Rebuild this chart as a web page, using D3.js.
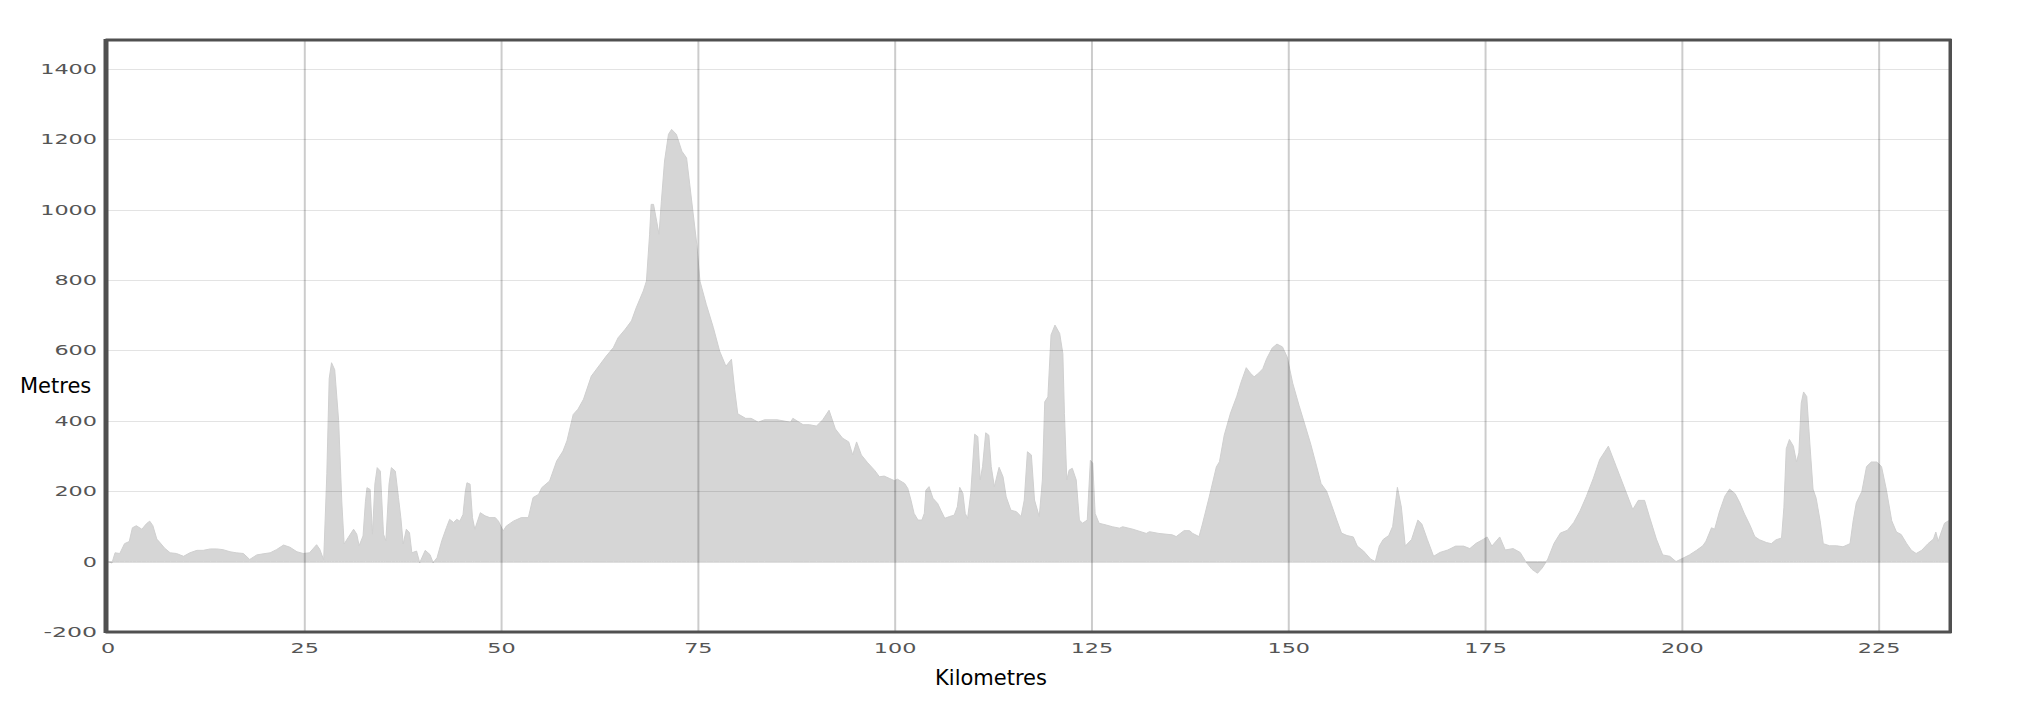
<!DOCTYPE html>
<html>

<head>
    <meta charset="utf-8">
    <script src="https://d3js.org/d3.v7.min.js"></script>
    <style>
        body {
            margin: 0;
            background: #fff;
        }

        .tick-label {
            font-family: "DejaVu Sans", sans-serif;
            font-size: 14px;
            fill: #555;
        }

        .axis-title {
            font-family: "DejaVu Sans", sans-serif;
            font-size: 21px;
            fill: #000;
        }
    </style>
</head>

<body>
    <div id="chart"></div>
    <script>
        // distance along the route (km) and elevation (m)
        var distanceKm = [
            0, 0.5, 0.9, 1.5, 2.1, 2.7, 3.1, 3.6, 4.3, 4.9, 5.3, 5.7, 6.2, 6.6, 7.2, 7.9, 8.7, 9.6,
            10.4, 11.3, 12.1, 13.0, 13.8, 14.6, 15.5, 16.3, 17.2, 18.0, 18.9, 19.7, 20.6, 21.4, 22.3,
            23.1, 24.0, 24.8, 25.6, 26.5, 26.9, 27.4, 27.8, 28.1, 28.4, 28.8, 29.3, 29.7, 30.0, 30.5,
            31.2, 31.6, 31.9, 32.4, 32.7, 32.9, 33.3, 33.6, 33.9, 34.2, 34.6, 35.0, 35.3, 35.7, 36.0,
            36.5, 36.9, 37.2, 37.5, 37.9, 38.3, 38.6, 39.2, 39.6, 40.3, 40.9, 41.3, 41.8, 42.4, 43.0,
            43.4, 43.9, 44.3, 44.7, 45.1, 45.4, 45.6, 46.0, 46.3, 46.6, 47.3, 47.9, 48.5, 49.2, 49.6,
            50.2, 50.6, 51.5, 52.5, 53.4, 54.0, 54.7, 55.1, 56.1, 57.0, 57.8, 58.3, 59.1, 59.7, 60.4,
            61.4, 62.5, 63.3, 64.2, 64.8, 65.7, 66.5, 67.1, 68.0, 68.4, 68.8, 69.0, 69.3, 69.7, 70.0,
            70.3, 70.7, 71.2, 71.6, 72.2, 72.9, 73.5, 73.9, 74.3, 74.8, 75.2, 76.0, 76.9, 77.7, 78.5,
            79.2, 79.6, 80.0, 81.0, 81.7, 82.6, 83.4, 85.0, 86.7, 87.0, 88.3, 89.1, 90.0, 90.8, 91.6,
            92.4, 93.3, 94.1, 94.6, 95.1, 95.7, 96.5, 97.4, 98.0, 98.6, 99.3, 99.9, 100.3, 101.2,
            101.6, 102.0, 102.4, 102.9, 103.4, 103.7, 103.9, 104.3, 104.8, 105.4, 105.8, 106.3, 106.9,
            107.5, 107.9, 108.2, 108.6, 108.9, 109.2, 109.6, 110.1, 110.5, 110.8, 111.1, 111.5, 111.9,
            112.2, 112.6, 113.2, 113.7, 114.1, 114.7, 115.4, 116.0, 116.4, 116.8, 117.3, 117.7, 118.3,
            118.7, 119.0, 119.4, 119.8, 120.3, 120.9, 121.3, 121.5, 121.8, 122.1, 122.5, 123.0, 123.4,
            123.8, 124.4, 124.8, 125.1, 125.4, 125.9, 126.8, 127.6, 128.5, 128.9, 130.2, 131.9, 132.3,
            133.5, 135.2, 135.7, 136.7, 137.4, 137.8, 138.6, 139.0, 139.9, 140.8, 141.2, 141.8, 142.6,
            143.4, 143.9, 144.6, 145.1, 145.6, 146.2, 146.7, 147.2, 147.9, 148.5, 149.2, 149.8, 150.5,
            151.3, 152.1, 152.8, 153.5, 154.1, 154.8, 155.4, 156.1, 156.7, 157.4, 158.2, 158.7, 159.5,
            160.4, 161.0, 161.5, 162.0, 162.7, 163.2, 163.8, 164.3, 164.8, 165.6, 166.4, 166.9, 167.6,
            168.4, 169.2, 170.2, 171.2, 172.2, 173.0, 173.8, 174.7, 175.2, 175.8, 176.8, 177.5, 178.5,
            179.4, 180.1, 180.9, 181.6, 182.2, 182.9, 183.7, 184.5, 185.4, 186.2, 187.0, 187.8, 188.7,
            189.5, 190.6, 191.6, 192.7, 193.7, 194.4, 195.2, 195.8, 196.7, 197.5, 198.4, 199.2, 200.1,
            200.9, 201.8, 202.6, 203.0, 203.7, 204.1, 204.7, 205.4, 206.0, 206.7, 207.3, 207.9, 208.6,
            209.2, 209.8, 210.7, 211.3, 211.9, 212.6, 212.9, 213.2, 213.6, 214.1, 214.5, 214.8, 215.1,
            215.4, 215.8, 216.2, 216.6, 217.0, 217.5, 217.9, 218.7, 219.6, 220.4, 221.3, 221.7, 222.1,
            222.8, 223.4, 224.0, 224.7, 225.3, 225.9, 226.6, 227.2, 227.8, 228.5, 229.1, 229.7, 230.4,
            231.2, 231.9, 232.2, 232.5, 232.9, 233.3, 233.8, 234.0
        ];
        var elevationM = [
            0, -4, 25, 23, 51, 57, 96, 102, 92, 108, 115, 102, 64, 54, 38, 25, 23, 15,
            25, 32, 32, 36, 36, 34, 28, 25, 23, 6, 19, 22, 25, 34, 47,
            41, 28, 23, 25, 48, 35, 5, 250, 520, 565, 545, 400, 170, 50, 68,
            92, 78, 45, 73, 170, 210, 205, 78, 220, 267, 257, 78, 59, 220, 267,
            257, 182, 125, 50, 92, 82, 25, 30, -3, 32, 20, -3, 11, 59, 97,
            120, 111, 120, 115, 134, 200, 224, 220, 125, 92, 139, 130, 125, 125, 115,
            87, 101, 115, 125, 125, 182, 191, 210, 229, 286, 314, 343, 418, 433, 461,
            527, 560, 584, 608, 636, 660, 684, 721, 769, 797, 930, 1015, 1015, 967, 930,
            1024, 1138, 1214, 1228, 1214, 1166, 1147, 1072, 996, 901, 797, 731, 665, 598, 555,
            575, 490, 420, 407, 407, 396, 403, 403, 396, 407, 389, 389, 385, 403, 430,
            377, 351, 340, 303, 340, 303, 281, 259, 241, 243, 236, 230, 234, 222,
            208, 175, 137, 118, 118, 137, 203, 213, 180, 165, 146, 123, 128,
            132, 156, 211, 194, 137, 123, 194, 362, 355, 232, 270, 366, 359,
            270, 213, 268, 241, 184, 146, 142, 128, 175, 312, 303, 175, 128,
            232, 454, 468, 644, 672, 648, 591, 421, 232, 260, 265, 232, 118,
            109, 118, 288, 279, 137, 109, 104, 99, 95, 99, 92, 80, 85,
            80, 76, 71, 88, 88, 80, 71, 104, 184, 269, 284, 359, 422,
            470, 507, 551, 536, 525, 536, 548, 577, 607, 618, 610, 581, 507,
            444, 385, 333, 274, 222, 200, 163, 118, 81, 74, 70, 44, 30,
            7, 0, 44, 63, 74, 100, 211, 155, 44, 63, 118, 107, 63,
            15, 26, 33, 44, 44, 37, 52, 63, 70, 44, 70, 33, 37,
            26, 0, -22, -33, -18, 7, 52, 81, 89, 111, 144, 185, 237,
            290, 328, 270, 206, 148, 174, 174, 129, 64, 19, 15, 0, 10,
            19, 32, 45, 58, 96, 92, 141, 186, 206, 193, 167, 135, 103,
            71, 62, 54, 51, 62, 67, 154, 321, 347, 328, 283, 309, 450,
            482, 469, 334, 206, 180, 116, 51, 45, 45, 42, 51, 116, 167,
            199, 270, 283, 283, 270, 206, 116, 84, 77, 51, 32, 23, 32,
            51, 64, 84, 58, 84, 109, 116, 116
        ];
        var xTicks = [0, 25, 50, 75, 100, 125, 150, 175, 200, 225];
        var yTicks = [-200, 0, 200, 400, 600, 800, 1000, 1200, 1400];

        var width = 2031;
        var height = 709;
        var plot = { left: 108, right: 1950, top: 40, bottom: 632 };

        var svg = d3.select("#chart")
            .append("svg")
            .attr("width", width)
            .attr("height", height);

        var x = d3.scaleLinear()
            .domain([0, 234])
            .range([plot.left, plot.right]);
        var y = d3.scaleLinear()
            .domain([-200, 1482])
            .range([plot.bottom, plot.top]);

        svg.append("clipPath")
            .attr("id", "plot-clip")
            .append("rect")
            .attr("x", plot.left)
            .attr("y", plot.top)
            .attr("width", plot.right - plot.left)
            .attr("height", plot.bottom - plot.top);

        var profile = distanceKm.map(function (d, i) {
            return { km: d, m: elevationM[i] };
        });

        // elevation fill, between zero and the profile
        svg.append("path")
            .datum(profile)
            .attr("clip-path", "url(#plot-clip)")
            .attr("fill", "#d6d6d6")
            .attr("stroke", "#d0d0d0")
            .attr("stroke-width", 1)
            .attr("d", d3.area()
                .x(function (d) { return x(d.km); })
                .y0(y(0))
                .y1(function (d) { return y(d.m); }));

        // grid lines sit over the fill, semi transparent
        svg.append("g")
            .selectAll("line")
            .data(yTicks.filter(function (d) { return d > -200; }))
            .enter()
            .append("line")
            .attr("x1", plot.left)
            .attr("x2", plot.right)
            .attr("y1", function (d) { return Math.round(y(d)) + 0.5; })
            .attr("y2", function (d) { return Math.round(y(d)) + 0.5; })
            .attr("stroke", "rgba(0,0,0,0.11)")
            .attr("stroke-width", 1.2);

        svg.append("g")
            .selectAll("line")
            .data(xTicks.filter(function (d) { return d > 0; }))
            .enter()
            .append("line")
            .attr("x1", function (d) { return x(d); })
            .attr("x2", function (d) { return x(d); })
            .attr("y1", plot.top)
            .attr("y2", plot.bottom)
            .attr("stroke", "rgba(0,0,0,0.2)")
            .attr("stroke-width", 2);

        // frame
        svg.append("rect")
            .attr("x", plot.left - 1)
            .attr("y", plot.top)
            .attr("width", plot.right - plot.left + 1)
            .attr("height", plot.bottom - plot.top)
            .attr("fill", "none")
            .attr("stroke", "#505050")
            .attr("stroke-width", 3);
        svg.append("line")
            .attr("x1", plot.left - 3).attr("x2", plot.left - 3)
            .attr("y1", plot.top - 1).attr("y2", plot.bottom + 1)
            .attr("stroke", "#505050")
            .attr("stroke-width", 3);
        svg.append("line")
            .attr("x1", plot.right + 1).attr("x2", plot.right + 1)
            .attr("y1", plot.top - 1).attr("y2", plot.bottom + 1)
            .attr("stroke", "#505050")
            .attr("stroke-width", 2);

        // wide tick labels
        function labelLength(s) {
            var w = 0;
            for (var i = 0; i < s.length; i++) {
                w += s[i] === "-" ? 11 : 14.2;
            }
            return w;
        }

        svg.append("g")
            .selectAll("text")
            .data(yTicks)
            .enter()
            .append("text")
            .attr("class", "tick-label")
            .attr("x", 97)
            .attr("y", function (d) { return y(d) + 5; })
            .attr("text-anchor", "end")
            .attr("textLength", function (d) { return labelLength(String(d)); })
            .attr("lengthAdjust", "spacingAndGlyphs")
            .text(function (d) { return d; });

        svg.append("g")
            .selectAll("text")
            .data(xTicks)
            .enter()
            .append("text")
            .attr("class", "tick-label")
            .attr("x", function (d) { return x(d); })
            .attr("y", 653)
            .attr("text-anchor", "middle")
            .attr("textLength", function (d) { return labelLength(String(d)); })
            .attr("lengthAdjust", "spacingAndGlyphs")
            .text(function (d) { return d; });

        svg.append("text")
            .attr("class", "axis-title")
            .attr("x", 20)
            .attr("y", 393)
            .text("Metres");

        svg.append("text")
            .attr("class", "axis-title")
            .attr("x", 991)
            .attr("y", 685)
            .attr("text-anchor", "middle")
            .text("Kilometres");
    </script>
</body>

</html>
